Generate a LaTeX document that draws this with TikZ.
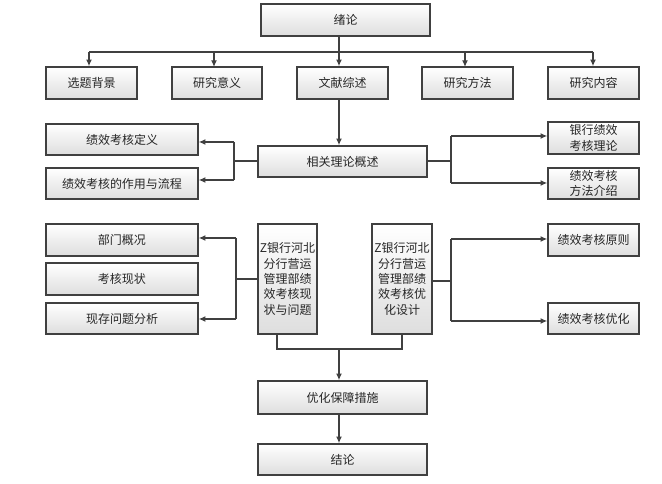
\documentclass[tikz,border=0pt]{standalone}
\usepackage{fontspec}
\newfontfamily\cjk{Noto Sans CJK SC}
\usetikzlibrary{arrows.meta,shadows}
\definecolor{ln}{HTML}{404040}
\tikzset{
  box/.style={draw=ln, line width=1.1pt, top color=white, bottom color=black!13,
    drop shadow={shadow xshift=1.1pt, shadow yshift=-1.1pt, fill=black!22, opacity=1},
    inner sep=1pt, align=center, font=\cjk\fontsize{9pt}{11.5pt}\selectfont, text=black!85},
  conn/.style={draw=ln, line width=1.1pt},
  thickconn/.style={draw=ln, line width=2pt},
  arr/.style={-{Latex[length=5pt,width=4.5pt]}},
}
\begin{document}
\begin{tikzpicture}[x=0.75pt,y=-0.75pt]
\useasboundingbox[fill=white] (0,0) rectangle (662,484);
% nodes
\node[box, minimum width={169*0.75pt}, minimum height={32*0.75pt}] (xl) at (345.5,20) {绪论};
\node[box, minimum width={91*0.75pt}, minimum height={32*0.75pt}] (b1) at (91.5,83) {选题背景};
\node[box, minimum width={90*0.75pt}, minimum height={32*0.75pt}] (b2) at (217,83) {研究意义};
\node[box, minimum width={91*0.75pt}, minimum height={32*0.75pt}] (b3) at (342.5,83) {文献综述};
\node[box, minimum width={91*0.75pt}, minimum height={32*0.75pt}] (b4) at (467.5,83) {研究方法};
\node[box, minimum width={91*0.75pt}, minimum height={32*0.75pt}] (b5) at (593.5,83) {研究内容};
\node[box, minimum width={169*0.75pt}, minimum height={31*0.75pt}] (lt) at (342.5,161.5) {相关理论概述};
\node[box, minimum width={152*0.75pt}, minimum height={31*0.75pt}] (l1) at (122,139.5) {绩效考核定义};
\node[box, minimum width={152*0.75pt}, minimum height={31*0.75pt}] (l2) at (122,183.5) {绩效考核的作用与流程};
\node[box, minimum width={91*0.75pt}, minimum height={32*0.75pt}] (r1) at (593.5,138) {银行绩效\\考核理论};
\node[box, minimum width={91*0.75pt}, minimum height={31*0.75pt}] (r2) at (593.5,183.5) {绩效考核\\方法介绍};
\node[box, minimum width={152*0.75pt}, minimum height={32*0.75pt}] (l3) at (122,240) {部门概况};
\node[box, minimum width={152*0.75pt}, minimum height={32*0.75pt}] (l4) at (122,279) {考核现状};
\node[box, minimum width={152*0.75pt}, minimum height={31*0.75pt}] (l5) at (122,318.5) {现存问题分析};
\node[box, minimum width={59*0.75pt}, minimum height={110*0.75pt}] (z1) at (287.5,279) {Z银行河北\\分行营运\\管理部绩\\效考核现\\状与问题};
\node[box, minimum width={60*0.75pt}, minimum height={110*0.75pt}] (z2) at (402,279) {Z银行河北\\分行营运\\管理部绩\\效考核优\\化设计};
\node[box, minimum width={91*0.75pt}, minimum height={32*0.75pt}] (r3) at (593.5,240) {绩效考核原则};
\node[box, minimum width={91*0.75pt}, minimum height={31*0.75pt}] (r4) at (593.5,318.5) {绩效考核优化};
\node[box, minimum width={169*0.75pt}, minimum height={33*0.75pt}] (yh) at (342.5,397.5) {优化保障措施};
\node[box, minimum width={169*0.75pt}, minimum height={31*0.75pt}] (jl) at (342.5,459.5) {结论};
% coordinates
\coordinate (bus) at (339,52);
\coordinate (bl) at (89,52);
\coordinate (br) at (593,52);
\coordinate (lb) at (234,161);
\coordinate (rb) at (451,161);
\coordinate (lz) at (236,279);
\coordinate (rz) at (451,281);
\coordinate (mj) at (339,349);
% bus from 绪论
\draw[conn] (bus |- xl.south) -- (bus);
\draw[conn] (bl) -- (br);
\draw[conn,arr] (bl) -- (bl |- b1.north);
\draw[conn,arr] (214,52) -- (214,67) coordinate (b2t);
\draw[conn,arr] (bus) -- (bus |- b3.north);
\draw[conn,arr] (465,52) -- (465 ,67) coordinate (b4t);
\draw[conn,arr] (br) -- (br |- b5.north);
% 文献综述 -> 相关理论概述
\draw[conn,arr] (bus |- b3.south) -- (bus |- lt.north);
% 相关理论概述 left
\draw[conn] (lt.west |- lb) -- (lb);
\draw[conn] (234,142) -- (234,180);
\draw[thickconn,arr] (234,142) -- (l1.east |- 0,142);
\draw[conn,arr] (234,180) -- (l2.east |- 0,180);
% 相关理论概述 right
\draw[conn] (lt.east |- rb) -- (rb);
\draw[conn] (451,136) -- (451,183);
\draw[thickconn,arr] (451,136) -- (r1.west |- 0,136);
\draw[conn,arr] (451,183) -- (r2.west |- 0,183);
% z1 left
\draw[thickconn] (z1.west |- lz) -- (lz);
\draw[conn] (236,238) -- (236,319);
\draw[thickconn,arr] (236,238) -- (l3.east |- 0,238);
\draw[conn,arr] (236,319) -- (l5.east |- 0,319);
% z2 right
\draw[thickconn] (z2.east |- rz) -- (rz);
\draw[conn] (451,239) -- (451,321);
\draw[conn,arr] (451,239) -- (r3.west |- 0,239);
\draw[conn,arr] (451,321) -- (r4.west |- 0,321);
% bottom merge
\draw[conn] (z1.south -| 277,0) -- (277,349) -- (402,349) -- (z2.south -| 402,0);
\draw[conn,arr] (mj) -- (mj |- yh.north);
\draw[conn,arr] (mj |- yh.south) -- (mj |- jl.north);
\end{tikzpicture}
\end{document}
